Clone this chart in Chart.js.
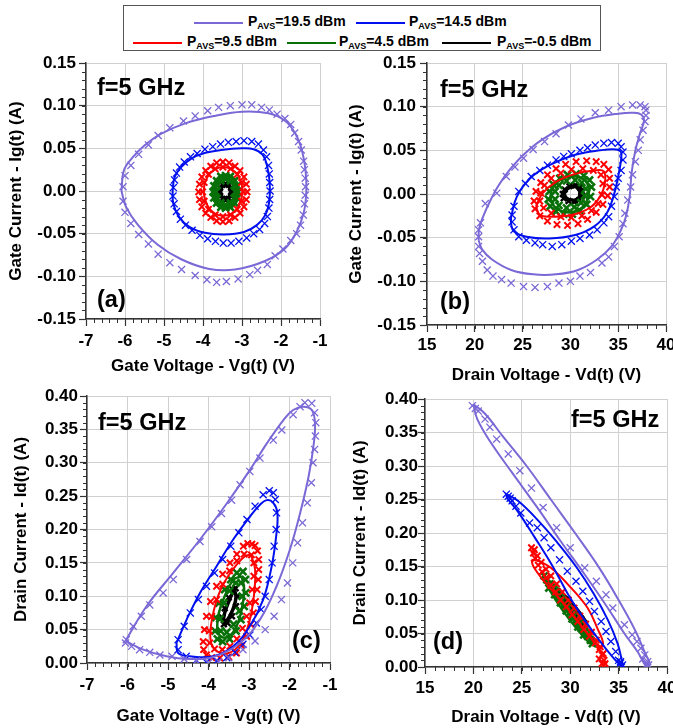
<!DOCTYPE html>
<html>
<head>
<meta charset="utf-8">
<script src="https://cdn.jsdelivr.net/npm/chart.js@4.4.1/dist/chart.umd.min.js"></script>
<style>
  html, body { margin: 0; padding: 0; background: #fff; }
  body { width: 673px; height: 728px; position: relative; overflow: hidden; font-family: 'Liberation Sans', Arial, sans-serif; }
  canvas { position: absolute; }
  .box { position: absolute; left: 123px; top: 5px; width: 478px; height: 46px; border: 1px solid #555; box-sizing: border-box; }
  .sw { position: absolute; width: 49px; height: 2px; }
  .lt { position: absolute; font-weight: bold; font-size: 14px; line-height: 16px; white-space: nowrap; }
  .lt sub { font-size: 9px; line-height: 0; vertical-align: -3px; }
  .note { position: absolute; font-weight: bold; font-size: 23.5px; line-height: 1; white-space: nowrap; }
</style>
</head>
<body>
<div class="box"></div>
<div class="sw" style="left:194px;top:22px;background:#7b68d6"></div>
<div class="lt" style="left:248px;top:13px">P<sub>AVS</sub>=19.5 dBm</div>
<div class="sw" style="left:356px;top:22px;background:#0010ee"></div>
<div class="lt" style="left:409px;top:13px">P<sub>AVS</sub>=14.5 dBm</div>
<div class="sw" style="left:133px;top:42px;background:#ff0000"></div>
<div class="lt" style="left:187px;top:33px">P<sub>AVS</sub>=9.5 dBm</div>
<div class="sw" style="left:287px;top:42px;background:#087008"></div>
<div class="lt" style="left:339px;top:33px">P<sub>AVS</sub>=4.5 dBm</div>
<div class="sw" style="left:442px;top:42px;background:#000"></div>
<div class="lt" style="left:497px;top:33px">P<sub>AVS</sub>=-0.5 dBm</div>

<canvas id="pa" width="336" height="330" style="left:0;top:55px"></canvas>
<canvas id="pb" width="340" height="335" style="left:340px;top:55px"></canvas>
<canvas id="pc" width="340" height="348" style="left:0;top:380px"></canvas>
<canvas id="pd" width="340" height="348" style="left:340px;top:380px"></canvas>

<div class="note" style="left:97px;top:76px">f=5 GHz</div>
<div class="note" style="left:97px;top:288px">(a)</div>
<div class="note" style="left:440px;top:78px">f=5 GHz</div>
<div class="note" style="left:440px;top:290px">(b)</div>
<div class="note" style="left:98px;top:411px">f=5 GHz</div>
<div class="note" style="left:292px;top:629px">(c)</div>
<div class="note" style="left:571px;top:408px">f=5 GHz</div>
<div class="note" style="left:433px;top:630px">(d)</div>

<script>
// series labels (input power) and colours
const powers = ['19.5', '14.5', '9.5', '4.5', '-0.5'];
const colors = ['#7b68d6', '#0010ee', '#ff0000', '#087008', '#000000'];

// ---- panel (a): Ig vs Vg ----
const aLine195 = [[-6.09,0],[-6.03,0.024],[-5.81,0.039],[-5.51,0.053],[-5.08,0.067],[-4.47,0.079],[-3.70,0.088],[-3.0,0.093],[-2.32,0.091],[-1.89,0.082],[-1.63,0.067],[-1.46,0.047],[-1.37,0.024],[-1.35,0],[-1.41,-0.024],[-1.59,-0.047],[-1.89,-0.067],[-2.41,-0.082],[-3.18,-0.092],[-3.87,-0.091],[-4.56,-0.080],[-5.16,-0.063],[-5.68,-0.039],[-5.98,-0.018],[-6.09,0]];
const aMark195 = [[-6.05,0.005],[-6.0,0.018],[-5.85,0.030],[-5.65,0.043],[-5.4,0.054],[-5.15,0.065],[-4.85,0.074],[-4.5,0.082],[-4.2,0.088],[-3.88,0.094],[-3.6,0.098],[-3.3,0.100],[-3.0,0.101],[-2.75,0.101],[-2.5,0.098],[-2.3,0.095],[-2.1,0.090],[-1.9,0.085],[-1.75,0.078],[-1.65,0.068],[-1.55,0.058],[-1.48,0.048],[-1.42,0.035],[-1.40,0.025],[-1.38,0.015],[-1.37,0.005],[-1.38,-0.005],[-1.40,-0.015],[-1.43,-0.028],[-1.5,-0.040],[-1.6,-0.050],[-1.75,-0.058],[-1.95,-0.068],[-2.15,-0.076],[-2.35,-0.086],[-2.6,-0.093],[-2.8,-0.098],[-3.1,-0.103],[-3.4,-0.106],[-3.65,-0.107],[-3.9,-0.104],[-4.2,-0.099],[-4.55,-0.092],[-4.85,-0.084],[-5.15,-0.074],[-5.4,-0.062],[-5.65,-0.051],[-5.85,-0.038],[-6.0,-0.025],[-6.05,-0.012]];
const aLine145 = [[-4.78,0],[-4.73,0.016],[-4.56,0.028],[-4.30,0.038],[-4.0,0.044],[-3.53,0.048],[-3.0,0.050],[-2.7,0.049],[-2.48,0.043],[-2.36,0.030],[-2.29,0.010],[-2.30,-0.012],[-2.40,-0.028],[-2.62,-0.040],[-2.95,-0.048],[-3.45,-0.051],[-3.95,-0.049],[-4.35,-0.042],[-4.62,-0.030],[-4.76,-0.015],[-4.78,0]];
const aMark145 = [[-4.76,0.004],[-4.73,0.013],[-4.68,0.021],[-4.60,0.028],[-4.48,0.034],[-4.32,0.040],[-4.15,0.044],[-3.95,0.049],[-3.75,0.052],[-3.55,0.055],[-3.35,0.057],[-3.15,0.058],[-2.95,0.059],[-2.75,0.058],[-2.58,0.055],[-2.45,0.048],[-2.37,0.040],[-2.32,0.030],[-2.30,0.020],[-2.29,0.010],[-2.28,0],[-2.29,-0.010],[-2.31,-0.020],[-2.35,-0.030],[-2.42,-0.038],[-2.55,-0.045],[-2.70,-0.050],[-2.88,-0.055],[-3.08,-0.059],[-3.28,-0.061],[-3.48,-0.061],[-3.68,-0.059],[-3.88,-0.056],[-4.08,-0.052],[-4.28,-0.046],[-4.45,-0.040],[-4.58,-0.033],[-4.68,-0.024],[-4.74,-0.015],[-4.77,-0.006]];
const aLine95 = [[-2.98,0],[-3.03,0.011],[-3.13,0.020],[-3.29,0.026],[-3.48,0.028],[-3.67,0.026],[-3.83,0.020],[-3.94,0.011],[-3.98,0],[-3.94,-0.011],[-3.83,-0.021],[-3.67,-0.027],[-3.48,-0.029],[-3.29,-0.027],[-3.13,-0.021],[-3.03,-0.011],[-2.98,0]];
const aMark95 = [[-2.87,-0.001],[-2.89,0.008],[-2.95,0.0165],[-3.05,0.024],[-3.18,0.029],[-3.33,0.033],[-3.49,0.034],[-3.65,0.033],[-3.80,0.029],[-3.93,0.024],[-4.03,0.0165],[-4.09,0.008],[-4.11,-0.001],[-4.09,-0.010],[-4.03,-0.0185],[-3.93,-0.026],[-3.80,-0.031],[-3.65,-0.035],[-3.49,-0.036],[-3.33,-0.035],[-3.18,-0.031],[-3.05,-0.026],[-2.95,-0.0185],[-2.89,-0.010],
  [-2.97,-0.001],[-3.01,0.010],[-3.12,0.0195],[-3.29,0.026],[-3.49,0.028],[-3.69,0.026],[-3.86,0.0195],[-3.97,0.010],[-4.01,-0.001],[-3.97,-0.012],[-3.86,-0.0215],[-3.69,-0.028],[-3.49,-0.030],[-3.29,-0.028],[-3.12,-0.0215],[-3.01,-0.012]];
const aLine45 = [[-3.08,-0.001],[-3.125,0.009],[-3.25,0.0165],[-3.42,0.019],[-3.59,0.0165],[-3.715,0.009],[-3.76,-0.001],[-3.715,-0.011],[-3.59,-0.0185],[-3.42,-0.021],[-3.25,-0.0185],[-3.125,-0.011],[-3.08,-0.001]];
const aMark45 = [[-3.10,-0.001],[-3.12,0.006],[-3.19,0.012],[-3.30,0.017],[-3.42,0.018],[-3.54,0.017],[-3.65,0.012],[-3.72,0.006],[-3.74,-0.001],[-3.72,-0.008],[-3.65,-0.014],[-3.54,-0.019],[-3.42,-0.020],[-3.30,-0.019],[-3.19,-0.014],[-3.12,-0.008],
  [-3.17,-0.001],[-3.20,0.0065],[-3.295,0.012],[-3.42,0.014],[-3.545,0.012],[-3.64,0.0065],[-3.67,-0.001],[-3.64,-0.0085],[-3.545,-0.014],[-3.42,-0.016],[-3.295,-0.014],[-3.20,-0.0085]];
const aLine05 = [[-3.29,-0.001],[-3.33,0.0047],[-3.42,0.007],[-3.51,0.0047],[-3.55,-0.001],[-3.51,-0.0067],[-3.42,-0.009],[-3.33,-0.0067],[-3.29,-0.001]];
const aMark05 = [[-3.26,-0.001],[-3.28,0.0038],[-3.34,0.0072],[-3.42,0.0085],[-3.50,0.0072],[-3.56,0.0038],[-3.58,-0.001],[-3.56,-0.0058],[-3.50,-0.0092],[-3.42,-0.0105],[-3.34,-0.0092],[-3.28,-0.0058]];

// ---- panel (b): Ig vs Vd ----
const bLine195 = [[20.4,-0.053],[20.45,-0.040],[20.9,-0.025],[21.6,-0.008],[22.5,0.010],[23.6,0.027],[25.1,0.045],[27.0,0.062],[29.5,0.077],[32.3,0.087],[35.0,0.092],[36.6,0.093],[37.4,0.091],[37.7,0.084],[37.3,0.070],[36.8,0.050],[36.4,0.024],[36.2,-0.003],[35.8,-0.026],[35.3,-0.041],[34.3,-0.060],[32.8,-0.075],[30.8,-0.087],[28.5,-0.092],[26.1,-0.092],[23.8,-0.087],[21.8,-0.075],[20.8,-0.064],[20.4,-0.053]];
const bMark195 = [[20.4,-0.041],[20.6,-0.033],[21.1,-0.011],[22.3,0.001],[23.3,0.020],[24.2,0.031],[25.1,0.041],[26.1,0.051],[27.3,0.060],[28.5,0.069],[29.8,0.079],[31.1,0.086],[32.6,0.093],[34.0,0.096],[35.3,0.100],[36.5,0.102],[37.3,0.102],[37.8,0.100],[37.9,0.096],[37.9,0.090],[37.8,0.083],[37.6,0.073],[37.3,0.062],[37.1,0.050],[36.8,0.037],[36.5,0.022],[36.3,0.008],[36.0,-0.007],[35.7,-0.022],[35.5,-0.034],[35.1,-0.049],[34.6,-0.060],[34.0,-0.072],[33.3,-0.079],[32.1,-0.090],[31.0,-0.094],[30.0,-0.100],[28.8,-0.102],[27.6,-0.106],[26.3,-0.107],[25.1,-0.106],[23.8,-0.102],[22.8,-0.098],[21.9,-0.094],[21.3,-0.087],[20.8,-0.077],[20.5,-0.068],[20.4,-0.060],[20.4,-0.049]];
const bLine145 = [[23.8,-0.026],[24.4,-0.003],[25.8,0.018],[27.8,0.033],[30.5,0.045],[33.1,0.050],[34.8,0.051],[35.3,0.048],[35.3,0.039],[35.0,0.020],[34.5,-0.003],[33.8,-0.022],[32.5,-0.037],[30.5,-0.047],[27.8,-0.051],[25.4,-0.049],[24.1,-0.043],[23.8,-0.034],[23.8,-0.026]];
const bMark145 = [[24.1,-0.014],[24.6,0.003],[25.3,0.012],[25.9,0.020],[26.8,0.027],[27.6,0.033],[28.5,0.039],[29.3,0.043],[30.1,0.046],[31.0,0.050],[31.8,0.053],[32.6,0.056],[33.5,0.058],[34.3,0.059],[35.0,0.058],[35.3,0.054],[35.5,0.048],[35.5,0.039],[35.3,0.027],[35.0,0.018],[34.8,0.008],[34.6,-0.003],[34.3,-0.014],[34.0,-0.026],[33.5,-0.033],[32.8,-0.041],[32.0,-0.047],[31.0,-0.051],[30.1,-0.054],[29.1,-0.058],[28.1,-0.060],[27.1,-0.058],[26.3,-0.056],[25.4,-0.053],[24.6,-0.049],[24.1,-0.041],[23.9,-0.032],[23.9,-0.024]];
const bLine95 = [[26.4,-0.014],[27.1,0.001],[28.5,0.014],[30.5,0.023],[32.5,0.027],[33.5,0.026],[33.6,0.012],[33.1,-0.003],[32.0,-0.016],[30.1,-0.024],[28.1,-0.026],[26.8,-0.024],[26.4,-0.014]];
const bMark95 = [[34.1,0.018],[34.0,0.028],[33.5,0.034],[32.7,0.037],[31.7,0.038],[30.6,0.037],[29.5,0.034],[28.5,0.029],[27.6,0.022],[26.9,0.013],[26.4,0.003],[26.2,-0.008],[26.3,-0.017],[26.8,-0.025],[27.6,-0.031],[28.6,-0.035],[29.7,-0.036],[30.8,-0.034],[31.8,-0.029],[32.7,-0.021],[33.4,-0.012],[33.9,-0.002],[34.1,0.008],
  [33.4,0.012],[33.2,0.022],[32.4,0.027],[31.3,0.029],[30.1,0.028],[29.0,0.024],[28.0,0.018],[27.3,0.010],[26.9,0.001],[26.8,-0.008],[27.2,-0.016],[28.0,-0.022],[29.0,-0.026],[30.1,-0.027],[31.2,-0.025],[32.2,-0.019],[32.9,-0.011],[33.3,-0.001]];
const bLine45 = [[32.0,0.005],[31.6,0.015],[30.7,0.020],[29.6,0.019],[28.6,0.013],[28.0,0.003],[28.0,-0.008],[28.6,-0.017],[29.6,-0.021],[30.7,-0.019],[31.6,-0.011],[32.0,0.005]];
const bMark45 = [[32.2,0.008],[32.0,0.016],[31.4,0.021],[30.6,0.023],[29.7,0.022],[28.9,0.018],[28.2,0.011],[27.8,0.003],[27.7,-0.006],[27.9,-0.014],[28.5,-0.020],[29.3,-0.023],[30.2,-0.023],[31.0,-0.019],[31.7,-0.012],[32.1,-0.003],
  [31.6,0.006],[31.2,0.013],[30.5,0.016],[29.6,0.015],[28.8,0.010],[28.4,0.003],[28.4,-0.006],[28.8,-0.013],[29.6,-0.016],[30.4,-0.015],[31.1,-0.010],[31.5,-0.002]];
const bLine05 = [[31.0,0.003],[30.6,0.008],[30.0,0.008],[29.5,0.004],[29.4,-0.002],[29.8,-0.006],[30.4,-0.007],[30.9,-0.004],[31.0,0.003]];
const bMark05 = [[31.2,0.003],[31.0,0.008],[30.5,0.010],[29.9,0.009],[29.4,0.005],[29.2,0.000],[29.3,-0.005],[29.8,-0.008],[30.4,-0.009],[30.9,-0.007],[31.2,-0.002]];

// ---- panel (c): Id vs Vg ----
const cLine195 = [[-6.05,0.033],[-5.53,0.085],[-4.87,0.135],[-4.21,0.185],[-3.55,0.239],[-2.98,0.289],[-2.56,0.329],[-2.15,0.364],[-1.91,0.379],[-1.66,0.384],[-1.45,0.379],[-1.37,0.359],[-1.41,0.324],[-1.53,0.279],[-1.74,0.224],[-1.99,0.170],[-2.32,0.115],[-2.73,0.065],[-3.22,0.030],[-3.88,0.009],[-4.5,0.006],[-5.04,0.010],[-5.61,0.020],[-6.05,0.033]];
const cMark195 = [[-6.03,0.035],[-5.86,0.055],[-5.66,0.070],[-5.45,0.087],[-5.12,0.105],[-4.87,0.125],[-4.54,0.155],[-4.21,0.182],[-3.92,0.204],[-3.68,0.224],[-3.43,0.244],[-3.22,0.267],[-2.98,0.287],[-2.73,0.307],[-2.40,0.334],[-2.19,0.349],[-1.91,0.372],[-1.74,0.384],[-1.62,0.390],[-1.45,0.389],[-1.38,0.375],[-1.35,0.36],[-1.36,0.34],[-1.38,0.32],[-1.42,0.30],[-1.46,0.27],[-1.56,0.24],[-1.68,0.21],[-1.80,0.18],[-1.92,0.15],[-2.05,0.12],[-2.2,0.095],[-2.38,0.07],[-2.6,0.05],[-2.85,0.033],[-3.15,0.02],[-3.5,0.008],[-3.75,0.002],[-4.0,0.0],[-4.3,0.003],[-4.6,0.006],[-4.9,0.01],[-5.2,0.012],[-5.45,0.016],[-5.7,0.02],[-5.9,0.025],[-6.05,0.03]];
const cLine145 = [[-4.79,0.030],[-4.54,0.065],[-4.21,0.105],[-3.80,0.145],[-3.39,0.185],[-2.98,0.219],[-2.73,0.237],[-2.56,0.244],[-2.40,0.240],[-2.30,0.225],[-2.32,0.195],[-2.44,0.145],[-2.65,0.095],[-2.98,0.055],[-3.39,0.025],[-3.88,0.010],[-4.46,0.010],[-4.75,0.015],[-4.79,0.030]];
const cMark145 = [[-4.75,0.035],[-4.6,0.055],[-4.45,0.075],[-4.25,0.095],[-4.05,0.115],[-3.85,0.135],[-3.65,0.155],[-3.45,0.175],[-3.25,0.195],[-3.05,0.215],[-2.85,0.235],[-2.65,0.252],[-2.5,0.258],[-2.4,0.255],[-2.35,0.245],[-2.32,0.225],[-2.33,0.20],[-2.38,0.175],[-2.43,0.15],[-2.5,0.125],[-2.6,0.10],[-2.7,0.08],[-2.82,0.06],[-2.98,0.042],[-3.15,0.028],[-3.35,0.016],[-3.55,0.008],[-3.8,0.003],[-4.05,0.001],[-4.3,0.004],[-4.55,0.01],[-4.75,0.02]];
const cLine95 = [[-2.95,0.162],[-2.85,0.14],[-2.88,0.10],[-3.0,0.06],[-3.2,0.03],[-3.5,0.015],[-3.8,0.018],[-3.95,0.035],[-3.9,0.07],[-3.7,0.11],[-3.4,0.14],[-3.1,0.16],[-2.95,0.162]];
const cMark95 = [[-2.93,0.178],[-2.85,0.176],[-2.79,0.168],[-2.76,0.155],[-2.76,0.140],[-2.77,0.125],[-2.80,0.110],[-2.84,0.092],[-2.89,0.075],[-2.96,0.058],[-3.06,0.040],[-3.18,0.026],[-3.31,0.015],[-3.50,0.009],[-3.72,0.0075],[-3.92,0.008],[-4.05,0.012],[-4.12,0.020],[-4.13,0.032],[-4.10,0.050],[-4.05,0.070],[-3.95,0.092],[-3.80,0.115],[-3.65,0.133],[-3.47,0.150],[-3.30,0.163],[-3.14,0.175],[-3.03,0.179],
  [-2.94,0.162],[-2.88,0.150],[-2.88,0.130],[-2.92,0.110],[-2.98,0.090],[-3.06,0.070],[-3.16,0.052],[-3.30,0.036],[-3.47,0.025],[-3.66,0.020],[-3.85,0.021],[-3.97,0.030],[-3.98,0.048],[-3.92,0.070],[-3.80,0.095],[-3.65,0.118],[-3.48,0.138],[-3.30,0.153],[-3.12,0.163]];
const cLine45 = [[-3.18,0.13],[-3.12,0.11],[-3.18,0.08],[-3.35,0.05],[-3.58,0.038],[-3.76,0.045],[-3.76,0.07],[-3.6,0.10],[-3.38,0.125],[-3.18,0.13]];
const cMark45 = [[-3.15,0.137],[-3.09,0.125],[-3.08,0.105],[-3.12,0.085],[-3.20,0.065],[-3.32,0.048],[-3.48,0.036],[-3.65,0.032],[-3.78,0.036],[-3.84,0.048],[-3.82,0.068],[-3.74,0.090],[-3.60,0.110],[-3.45,0.125],[-3.30,0.135],
  [-3.20,0.120],[-3.17,0.100],[-3.24,0.078],[-3.38,0.058],[-3.55,0.046],[-3.70,0.048],[-3.72,0.066],[-3.62,0.090],[-3.48,0.108],[-3.32,0.120]];
const cLine05 = [[-3.36,0.110],[-3.32,0.098],[-3.40,0.080],[-3.52,0.066],[-3.62,0.062],[-3.60,0.075],[-3.50,0.092],[-3.40,0.106],[-3.36,0.110]];
const cMark05 = [[-3.33,0.112],[-3.28,0.100],[-3.32,0.085],[-3.42,0.070],[-3.53,0.060],[-3.62,0.058],[-3.66,0.068],[-3.60,0.082],[-3.50,0.098],[-3.40,0.110]];

// ---- panel (d): Id vs Vd ----
const dLine195 = [[20.0,0.392],[21.2,0.378],[23.0,0.345],[25.5,0.300],[28.0,0.250],[30.5,0.200],[33.0,0.148],[35.0,0.100],[36.7,0.055],[37.7,0.022],[38.2,0.004],[37.8,0.002],[37.0,0.022],[35.6,0.050],[33.8,0.090],[31.5,0.138],[29.0,0.188],[26.5,0.240],[24.0,0.290],[21.8,0.335],[20.4,0.370],[20.0,0.392]];
const dMark195 = [[19.9,0.390],[20.2,0.386],[20.5,0.382],[21.2,0.370],[21.7,0.358],[22.4,0.340],[23.6,0.318],[24.8,0.293],[26.0,0.267],[27.2,0.238],[28.6,0.208],[30.0,0.178],[31.5,0.148],[32.7,0.128],[33.7,0.108],[34.4,0.088],[35.6,0.063],[36.4,0.048],[36.9,0.038],[37.3,0.028],[37.5,0.012],[37.7,0.018],[37.9,0.004],[38.0,0.008],[38.1,0.003]];
const dLine145 = [[23.4,0.258],[24.6,0.248],[26.6,0.220],[28.6,0.187],[30.6,0.150],[32.4,0.110],[33.9,0.070],[34.9,0.035],[35.3,0.012],[35.4,0.003],[35.1,0.004],[34.2,0.018],[33.0,0.040],[31.5,0.070],[29.8,0.108],[28.2,0.150],[26.4,0.192],[24.6,0.232],[23.5,0.252],[23.4,0.258]];
const dMark145 = [[23.4,0.258],[23.6,0.255],[23.8,0.252],[24.0,0.248],[24.4,0.240],[24.9,0.230],[25.8,0.215],[26.6,0.208],[27.3,0.193],[28.0,0.178],[28.9,0.160],[29.7,0.143],[30.6,0.128],[31.3,0.113],[32.0,0.098],[32.5,0.083],[33.2,0.068],[33.7,0.053],[34.2,0.038],[34.7,0.023],[35.0,0.010],[35.2,0.008],[35.2,0.006],[35.4,0.003],[35.3,0.0]];
const dLine95 = [[26.0,0.160],[26.6,0.159],[28.0,0.148],[30.1,0.118],[31.8,0.088],[32.8,0.058],[33.4,0.035],[33.0,0.030],[31.5,0.055],[29.4,0.093],[27.3,0.128],[26.2,0.150],[26.0,0.160]];
const dMark95 = [[26.0,0.178],[26.2,0.170],[26.4,0.162],[26.7,0.152],[27.1,0.142],[27.5,0.133],[28.0,0.122],[28.5,0.112],[29.0,0.100],[29.6,0.090],[30.2,0.078],[30.8,0.068],[31.4,0.056],[32.0,0.046],[32.6,0.036],[33.0,0.026],[33.3,0.018],[33.5,0.010],[33.6,0.005],
  [26.3,0.175],[26.6,0.166],[27.0,0.156],[27.5,0.146],[28.0,0.136],[28.6,0.124],[29.2,0.112],[29.8,0.100],[30.4,0.088],[31.0,0.076],[31.6,0.064],[32.2,0.052],[32.7,0.040],[33.1,0.030],[33.4,0.020],[33.3,0.005],[33.0,0.012]];
const dLine45 = [[27.3,0.134],[28.4,0.122],[29.8,0.098],[31.2,0.070],[32.2,0.046],[32.5,0.033],[32.0,0.036],[30.8,0.055],[29.3,0.083],[28.0,0.112],[27.3,0.134]];
const dMark45 = [[27.3,0.136],[27.6,0.130],[27.9,0.124],[28.2,0.118],[28.5,0.112],[28.8,0.106],[29.1,0.100],[29.4,0.094],[29.7,0.088],[30.0,0.082],[30.3,0.076],[30.6,0.070],[30.9,0.064],[31.2,0.058],[31.5,0.052],[31.8,0.046],[32.1,0.040],[32.3,0.035],
  [27.8,0.118],[28.4,0.108],[29.0,0.096],[29.6,0.084],[30.2,0.072],[30.8,0.060],[31.4,0.048]];
const dLine05 = [[28.6,0.115],[29.5,0.105],[30.6,0.088],[31.5,0.070],[31.7,0.062],[31.2,0.062],[30.2,0.075],[29.2,0.095],[28.6,0.112],[28.6,0.115]];
const dMark05 = [[28.7,0.113],[29.1,0.106],[29.5,0.100],[29.9,0.093],[30.3,0.086],[30.7,0.079],[31.1,0.072],[31.5,0.065],[29.0,0.100],[29.5,0.092],[30.0,0.084],[30.5,0.076],[31.0,0.068]];

const FONT = "'Liberation Sans', Arial, sans-serif";
const tickFont = { family: FONT, size: 17, weight: 'bold' };
const titleFont = { family: FONT, size: 17, weight: 'bold' };

// per series: marker radius, marker stroke, line width
const markSize = [5, 5, 4.5, 5, 4];
const markStroke = [1.3, 1.3, 2, 2.6, 2.4];
const lineWidth = [2, 2, 2, 2.5, 3.5];

function pts(arr) { return arr.map(p => ({ x: p[0], y: p[1] })); }

function seriesSets(lines, marks) {
  const sets = [];
  lines.forEach((ln, i) => {
    sets.push({
      label: 'PAVS=' + powers[i] + ' dBm', data: pts(ln), showLine: true,
      borderColor: colors[i], borderWidth: lineWidth[i], pointRadius: 0, tension: 0.4,
      order: 2 * i + 1
    });
    sets.push({
      label: 'PAVS=' + powers[i] + ' dBm meas', data: pts(marks[i]), showLine: false,
      pointStyle: 'crossRot', pointRadius: markSize[i], pointBorderWidth: markStroke[i],
      borderColor: colors[i], backgroundColor: colors[i],
      order: 2 * i
    });
  });
  return sets;
}

// short outer minor ticks on the left and bottom axes
const minorTicks = {
  id: 'minorTicks',
  afterDraw(chart, args, opts) {
    const { ctx, chartArea: a, scales: { x, y } } = chart;
    ctx.save();
    ctx.strokeStyle = '#333';
    ctx.lineWidth = 1;
    const nx = Math.round((x.max - x.min) / opts.xMinor);
    for (let i = 1; i < nx; i++) {
      const p = Math.round(x.getPixelForValue(x.min + i * opts.xMinor)) + 0.5;
      ctx.beginPath(); ctx.moveTo(p, a.bottom); ctx.lineTo(p, a.bottom + 4); ctx.stroke();
    }
    const ny = Math.round((y.max - y.min) / opts.yMinor);
    for (let i = 1; i < ny; i++) {
      const p = Math.round(y.getPixelForValue(y.min + i * opts.yMinor)) + 0.5;
      ctx.beginPath(); ctx.moveTo(a.left, p); ctx.lineTo(a.left - 4, p); ctx.stroke();
    }
    ctx.restore();
  }
};

function makePanel(id, o) {
  new Chart(document.getElementById(id), {
    type: 'scatter',
    data: { datasets: seriesSets(o.lines, o.marks) },
    options: {
      responsive: false, animation: false, devicePixelRatio: 1,
      layout: { padding: { top: o.padTop, right: o.padRight, left: 0, bottom: 0 } },
      plugins: { legend: { display: false }, tooltip: { enabled: false }, minorTicks: { xMinor: o.xMinor, yMinor: o.yMinor } },
      scales: {
        x: {
          type: 'linear', min: o.xMin, max: o.xMax,
          ticks: { stepSize: o.xStep, color: '#000', font: tickFont, padding: o.xTickPad, maxRotation: 0, autoSkip: false },
          grid: { color: '#d0d0d0', lineWidth: 1, tickLength: 7, tickColor: '#333', tickWidth: 1.2 },
          border: { color: '#333', width: 1.5 },
          title: { display: true, text: o.xTitle, color: '#000', font: titleFont, padding: { top: 0, bottom: o.xTitlePad } },
          afterFit: s => { s.height = o.xH; s.paddingLeft = 0; s.paddingRight = 0; }
        },
        y: {
          type: 'linear', min: o.yMin, max: o.yMax,
          ticks: { stepSize: o.yStep, color: '#000', font: tickFont, padding: o.yTickPad, autoSkip: false,
                   callback: v => Math.abs(v) < 1e-9 ? '0.00' : v.toFixed(2) },
          grid: { color: '#d0d0d0', lineWidth: 1, tickLength: 7, tickColor: '#333', tickWidth: 1.2 },
          border: { color: '#333', width: 1.5 },
          title: { display: true, text: o.yTitle, color: '#000', font: titleFont, padding: { top: o.yTitlePad, bottom: 0 } },
          afterFit: s => { s.width = o.yW; s.paddingTop = 0; s.paddingBottom = 0; }
        }
      }
    },
    plugins: [minorTicks]
  });
}

makePanel('pa', {
  lines: [aLine195, aLine145, aLine95, aLine45, aLine05],
  marks: [aMark195, aMark145, aMark95, aMark45, aMark05],
  xMin: -7, xMax: -1, xStep: 1, xMinor: 0.2, yMin: -0.15, yMax: 0.15, yStep: 0.05, yMinor: 0.01,
  xTitle: 'Gate Voltage - Vg(t) (V)', yTitle: 'Gate Current - Ig(t) (A)',
  padTop: 8, padRight: 16, yW: 86, xH: 66, xTickPad: 5, yTickPad: 3, xTitlePad: 8, yTitlePad: 6.5
});
makePanel('pb', {
  lines: [bLine195, bLine145, bLine95, bLine45, bLine05],
  marks: [bMark195, bMark145, bMark95, bMark45, bMark05],
  xMin: 15, xMax: 40, xStep: 5, xMinor: 1, yMin: -0.15, yMax: 0.15, yStep: 0.05, yMinor: 0.01,
  xTitle: 'Drain Voltage - Vd(t) (V)', yTitle: 'Gate Current - Ig(t) (A)',
  padTop: 8, padRight: 14, yW: 87, xH: 65, xTickPad: 3, yTickPad: 4, xTitlePad: 4, yTitlePad: 6.5
});
makePanel('pc', {
  lines: [cLine195, cLine145, cLine95, cLine45, cLine05],
  marks: [cMark195, cMark145, cMark95, cMark45, cMark05],
  xMin: -7, xMax: -1, xStep: 1, xMinor: 0.2, yMin: 0, yMax: 0.4, yStep: 0.05, yMinor: 0.01,
  xTitle: 'Gate Voltage - Vg(t) (V)', yTitle: 'Drain Current - Id(t) (A)',
  padTop: 16, padRight: 10, yW: 87, xH: 65, xTickPad: 5, yTickPad: 2, xTitlePad: 1.5, yTitlePad: 11.5
});
makePanel('pd', {
  lines: [dLine195, dLine145, dLine95, dLine45, dLine05],
  marks: [dMark195, dMark145, dMark95, dMark45, dMark05],
  xMin: 15, xMax: 40, xStep: 5, xMinor: 1, yMin: 0, yMax: 0.4, yStep: 0.05, yMinor: 0.01,
  xTitle: 'Drain Voltage - Vd(t) (V)', yTitle: 'Drain Current - Id(t) (A)',
  padTop: 19, padRight: 13, yW: 85, xH: 61, xTickPad: 4, yTickPad: 0, xTitlePad: 0.5, yTitlePad: 10
});
</script>
</body>
</html>
